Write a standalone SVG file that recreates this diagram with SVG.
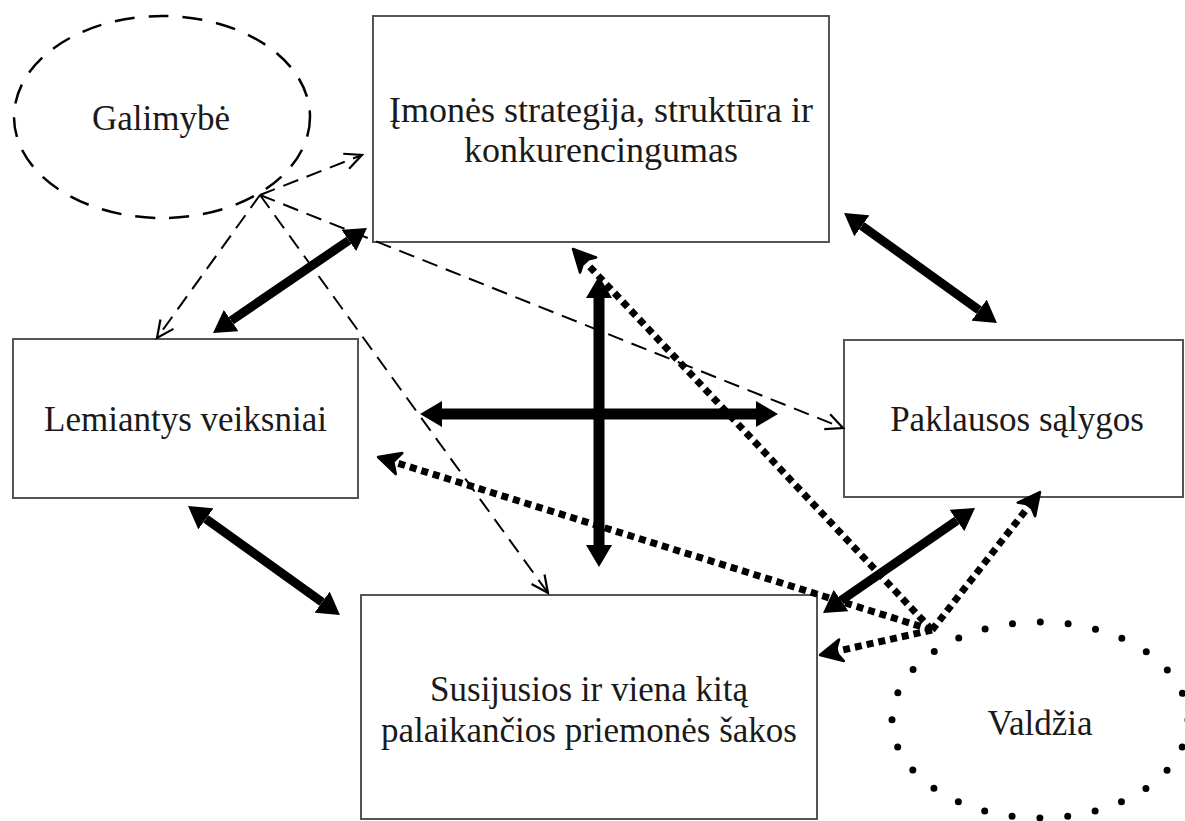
<svg xmlns="http://www.w3.org/2000/svg" width="1185" height="821" viewBox="0 0 1185 821">
<style>
.box{fill:#fff;stroke:#555;stroke-width:2}
.lbl{font-family:"Liberation Serif","Times New Roman",serif;font-size:35px;fill:#1a1a1a;text-anchor:middle}
.solid{stroke:#000;fill:none}
.dash{stroke:#000;stroke-width:2;stroke-dasharray:16 9;fill:none}
.dot{stroke:#000;stroke-width:7;stroke-dasharray:7 5;fill:none}
</style>
<defs>
<marker id="solidHead" markerUnits="userSpaceOnUse" viewBox="0 -13 22 26" markerWidth="22" markerHeight="26" refX="0" refY="0" orient="auto-start-reverse">
<path d="M0,-13 L22,0 L0,13 z" fill="#000"/>
</marker>
<marker id="openHead" markerUnits="userSpaceOnUse" viewBox="-19 -10 21 20" markerWidth="21" markerHeight="20" refX="0" refY="0" orient="auto" overflow="visible">
<path d="M-17,-8 L0,0 L-17,8" fill="none" stroke="#000" stroke-width="2.2"/>
</marker>
<marker id="dotHead" markerUnits="userSpaceOnUse" viewBox="-12 -13 26 26" markerWidth="26" markerHeight="26" refX="0" refY="0" orient="auto" overflow="visible">
<path d="M12,0 L-10,-11 L-4,0 L-10,11 z" fill="#000" stroke="#000" stroke-width="2.5" stroke-linejoin="round"/>
</marker>
</defs>
<rect width="1185" height="821" fill="#fff"/>

<g id="galimybe">
<ellipse cx="162" cy="117" rx="148" ry="101" fill="none" stroke="#000" stroke-width="2.5" stroke-dasharray="20 14"/>
<text class="lbl" x="161" y="130">Galimybė</text>
</g>
<g id="imones">
<rect class="box" x="373" y="16" width="456" height="226"/>
<text class="lbl" x="601" y="122" style="font-size:36px">Įmonės strategija, struktūra ir</text>
<text class="lbl" x="601" y="162" style="font-size:36px">konkurencingumas</text>
</g>
<g id="lemiantys">
<rect class="box" x="13" y="339" width="345" height="159"/>
<text class="lbl" x="185.5" y="431">Lemiantys veiksniai</text>
</g>
<g id="paklausos">
<rect class="box" x="844" y="340" width="339" height="157"/>
<text class="lbl" x="1017" y="431">Paklausos sąlygos</text>
</g>
<g id="susijusios">
<rect class="box" x="361" y="595" width="456" height="224"/>
<text class="lbl" x="589" y="701">Susijusios ir viena kitą</text>
<text class="lbl" x="589" y="742">palaikančios priemonės šakos</text>
</g>
<g id="valdzia">
<ellipse cx="1040" cy="720" rx="148" ry="98" fill="none" stroke="#000" stroke-width="7" stroke-linecap="round" stroke-dasharray="0 27.88"/>
<text class="lbl" x="1040" y="735">Valdžia</text>
</g>

<g id="connectors">
<line class="solid" stroke-width="9" x1="231.2" y1="320.6" x2="348.8" y2="240.4" marker-start="url(#solidHead)" marker-end="url(#solidHead)"/>
<line class="solid" stroke-width="9" x1="861.9" y1="225.8" x2="979.1" y2="310.2" marker-start="url(#solidHead)" marker-end="url(#solidHead)"/>
<line class="solid" stroke-width="9" x1="205.9" y1="518.8" x2="322.1" y2="602.2" marker-start="url(#solidHead)" marker-end="url(#solidHead)"/>
<line class="solid" stroke-width="9" x1="841.1" y1="600.5" x2="956.9" y2="520.5" marker-start="url(#solidHead)" marker-end="url(#solidHead)"/>
<line class="solid" stroke-width="11" x1="599" y1="298" x2="599" y2="545" marker-start="url(#solidHead)" marker-end="url(#solidHead)"/>
<line class="solid" stroke-width="11" x1="442" y1="414" x2="756" y2="414" marker-start="url(#solidHead)" marker-end="url(#solidHead)"/>

<line class="dash" x1="260" y1="195" x2="362" y2="155" marker-end="url(#openHead)"/>
<line class="dash" x1="260" y1="195" x2="157" y2="338" marker-end="url(#openHead)"/>
<line class="dash" x1="260" y1="195" x2="548" y2="593" marker-end="url(#openHead)"/>
<line class="dash" x1="260" y1="195" x2="843" y2="428" marker-end="url(#openHead)"/>

<line class="dot" x1="932" y1="630" x2="581.2" y2="257.7" marker-end="url(#dotHead)"/>
<line class="dot" x1="932" y1="630" x2="389.5" y2="460.6" marker-end="url(#dotHead)"/>
<line class="dot" x1="932" y1="630" x2="831.7" y2="652.4" marker-end="url(#dotHead)"/>
<line class="dot" x1="932" y1="630" x2="1032.6" y2="501.5" marker-end="url(#dotHead)"/>
</g>
</svg>
